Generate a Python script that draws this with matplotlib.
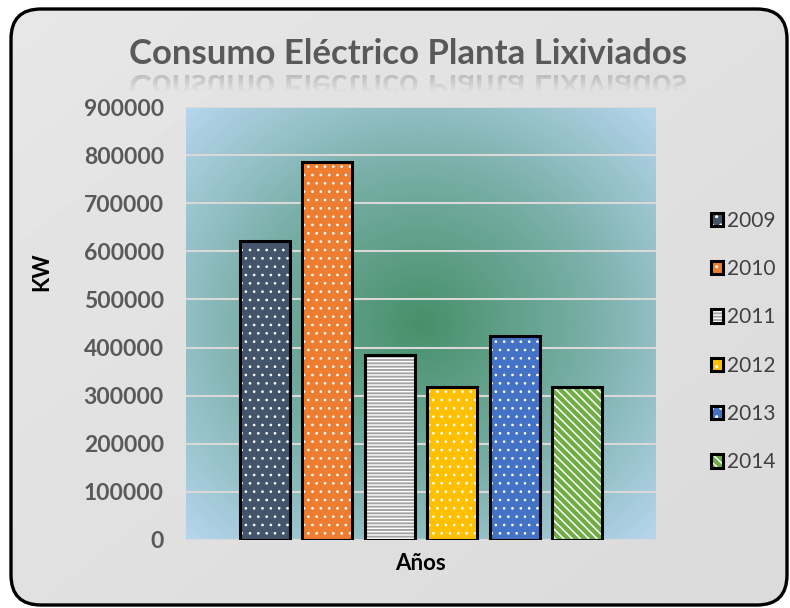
import numpy as np
import matplotlib
matplotlib.use('Agg')
import matplotlib.pyplot as plt
from matplotlib.patches import FancyBboxPatch, PathPatch, Rectangle
from matplotlib.textpath import TextPath
from matplotlib.font_manager import FontProperties
from matplotlib.transforms import Affine2D, IdentityTransform
from matplotlib.colors import LinearSegmentedColormap

# Data
anios = ['2009', '2010', '2011', '2012', '2013', '2014']
consumo_kw = [622000, 786000, 385000, 319000, 425000, 319000]
colores = ['#44546a', '#ed7d31', '#a5a5a5', '#ffc000', '#4472c4', '#70ad47']
tramas = ['..', '..', '-----', '..', '..', '\\\\\\\\']
grosor_trama = [0.7, 0.7, 1.0, 0.7, 0.7, 1.1]
titulo = 'Consumo Eléctrico Planta Lixiviados'

plt.rcParams['font.family'] = ['Lato', 'DejaVu Sans']

W, H = 790, 608
fig = plt.figure(figsize=(W / 100, H / 100), dpi=100)
fig.patch.set_facecolor('white')

# Rounded chart frame with light gray gradient
bg = fig.add_axes([0, 0, 1, 1])
bg.axis('off')
gx, gy = np.meshgrid(np.linspace(0, 1, 200), np.linspace(0, 1, 200))
grad = 0.905 - 0.05 * (gx + gy) / 2
frame = FancyBboxPatch((11, 3), 776, 596, boxstyle='round,pad=0,rounding_size=30',
                       transform=IdentityTransform(), facecolor='none',
                       edgecolor='black', linewidth=2.4, zorder=5)
im = bg.imshow(grad, cmap='gray', vmin=0, vmax=1, extent=[0, 1, 0, 1], aspect='auto')
im.set_clip_path(frame)
fig.add_artist(frame)

# Plot area
ax = fig.add_axes([186 / W, (H - 540) / H, 470 / W, 433 / H])
ax.set_facecolor('none')
x = np.arange(len(anios))
xlim = (2.5 - 3.764, 2.5 + 3.764)
ax.set_xlim(xlim)
ax.set_ylim(0, 900000)

nx, ny = np.meshgrid(np.linspace(-1, 1, 300), np.linspace(-1, 1, 300))
r = np.sqrt(nx ** 2 + ny ** 2) / np.sqrt(2)
fondo = LinearSegmentedColormap.from_list('fondo', ['#47906a', '#78aea6', '#b6d6ee'])
ax.imshow(r, cmap=fondo, extent=[xlim[0], xlim[1], 0, 900000], aspect='auto', zorder=0)

ax.set_yticks(np.arange(0, 900001, 100000))
ax.yaxis.grid(True, color='#d9d9d9', linewidth=1.5)
ax.set_axisbelow(True)
for s in ax.spines.values():
    s.set_visible(False)
ax.set_xticks([])
ax.tick_params(axis='y', length=0, pad=16, labelsize=16.5, labelcolor='#595959')
for lab in ax.get_yticklabels():
    lab.set_fontweight('bold')

handles = []
for i in range(len(anios)):
    b1 = ax.bar(x[i], consumo_kw[i], 0.8, color=colores[i], zorder=2)
    with plt.rc_context({'hatch.linewidth': grosor_trama[i]}):
        b2 = ax.bar(x[i], consumo_kw[i], 0.8, facecolor='none', edgecolor='white',
                    hatch=tramas[i], linewidth=0, zorder=3)
    b3 = ax.bar(x[i], consumo_kw[i], 0.8, facecolor='none', edgecolor='black',
                linewidth=2.2, zorder=4)
    handles.append((b1.patches[0], b2.patches[0], b3.patches[0]))

fig.legend(handles, anios, loc='center left', bbox_to_anchor=(692 / W, 1 - 341.5 / H),
           frameon=False, fontsize=15, handlelength=0.6, handleheight=0.6,
           handletextpad=0.2, labelspacing=1.36, labelcolor='#404040')

fig.text(42 / W, 1 - 272 / H, 'KW', rotation=90, ha='center', va='center',
         fontsize=16, fontweight='bold', color='black')
fig.text(421 / W, 1 - 563 / H, 'Años', ha='center', va='center',
         fontsize=16, fontweight='bold', color='black')

# Title and its reflection
tsize = 25
fig.text(408 / W, 1 - 64 / H, titulo, ha='center', va='baseline',
         fontsize=tsize, fontweight='bold', color='#595959')
fp = FontProperties(family='Lato', weight='bold')
tp = TextPath((0, 0), titulo, size=tsize * 100 / 72, prop=fp)
ext = tp.get_extents()
base = H - 75
tr = Affine2D().scale(1, -1).translate(408 - (ext.x0 + ext.x1) / 2, base)
n = 8
for k in range(n):
    clip = Rectangle((0, base - (k + 1) * 2.0), W, 2.0, transform=IdentityTransform())
    pp = PathPatch(tr.transform_path(tp), facecolor='#a8a8a8', edgecolor='none',
                   alpha=0.6 * (1 - k / n), transform=IdentityTransform())
    pp.set_clip_path(clip)
    fig.add_artist(pp)

fig.savefig('out.png', dpi=100)
